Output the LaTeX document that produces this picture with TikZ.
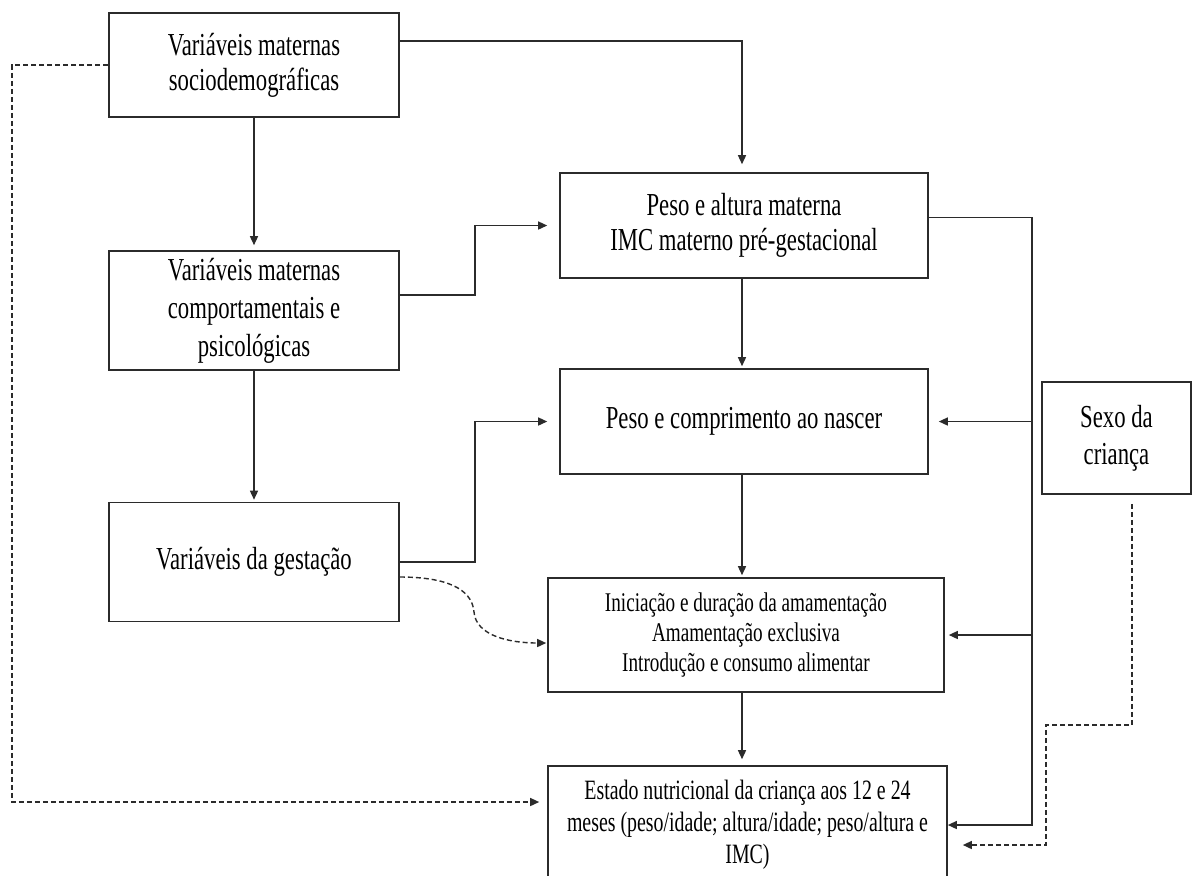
\documentclass[tikz,border=0pt]{standalone}
\usepackage{fontspec}
\setmainfont{Liberation Serif}[FakeStretch=0.71]
\usetikzlibrary{arrows.meta,calc}
\definecolor{fwline}{HTML}{2B2B2B}

\begin{document}
\begin{tikzpicture}[x=0.5pt, y=-0.5pt,
   box/.style={draw=fwline, line width=0.8pt, minimum width=145pt, align=center,
               inner sep=0pt, font=\fontsize{16}{17.5}\selectfont},
   midbox/.style={box, minimum width=184pt, minimum height=52.5pt},
   lowbox/.style={box, font=\fontsize{13.5}{15}\selectfont},
   link/.style={draw=fwline, line width=0.7pt, ->},
   weak/.style={link, dash pattern=on 2.5pt off 1.5pt},
   >={Triangle[length=4.5pt,width=4pt]}]
  \useasboundingbox (0,0) rectangle (1192,875);

  \node[box, minimum height=52pt] (socio) at (254,65) {Variáveis maternas\\sociodemográficas};
  \node[box, minimum height=59.5pt, font=\fontsize{16}{19}\selectfont] (behav) at (254,310.5)
       {Variáveis maternas\\comportamentais e\\psicológicas};
  \node[box, minimum height=59.5pt] (gest) at (254,562) {Variáveis da gestação};
  \node[midbox] (mother) at (744,225.5) {Peso e altura materna\\IMC materno pré-gestacional};
  \node[midbox] (birth) at (744,421.5) {Peso e comprimento ao nascer};
  \node[lowbox, minimum width=198pt, minimum height=57pt] (feed) at (746,635)
       {Iniciação e duração da amamentação\\Amamentação exclusiva\\Introdução e consumo alimentar};
  \node[lowbox, minimum width=199.5pt, minimum height=59pt, font=\fontsize{14}{16}\selectfont] (status) at (747.5,825)
       {Estado nutricional da criança aos 12 e 24\\meses (peso/idade; altura/idade; peso/altura e\\IMC)};
  \node[box, minimum width=74.5pt, minimum height=56pt, font=\fontsize{16}{18.5}\selectfont] (sex) at (1116.5,438)
       {Sexo da\\criança};

  % guide lines
  \coordinate (spine) at (742,0);
  \coordinate (rail) at (1032,0);
  \coordinate (lft) at (12,0);
  \coordinate (jog) at (1046,725);
  \coordinate (bend) at (474,612);

  % left column
  \draw[link, shorten >=2.5pt] (socio) -- (behav);
  \draw[link, shorten >=1pt] (behav) -- (gest);
  \draw[link, shorten >=4pt] ([yshift=12pt]socio.east) -| (mother.north -| spine);
  \draw[link, shorten >=6pt] ([yshift=7.75pt]behav.east) -- ++(75,0) |- (mother.west);
  \draw[link, shorten >=6pt] (gest.east) -- ++(75,0) |- (birth.west);
  \draw[weak, shorten >=0.5pt] ([yshift=-7.5pt]gest.east) .. controls (445,577) and (472,588) .. (bend)
       .. controls (476,636) and (510,643) .. ([yshift=-4pt]feed.west);

  % middle column
  \draw[link, shorten >=1pt] (mother.south -| spine) -- (birth.north -| spine);
  \draw[link, shorten >=1pt] (birth.south -| spine) -- (feed.north -| spine);
  \draw[link, shorten >=3pt] (feed.south -| spine) -- (status.north -| spine);

  % right rail
  \draw[link] ([yshift=4pt]mother.east) -| (rail |- status.east) -- (status.east);
  \draw[link, shorten >=5pt] (birth.east -| rail) -- (birth.east);
  \draw[link, shorten >=2pt] (feed.east -| rail) -- (feed.east);

  % dashed paths
  \draw[weak, shorten >=4pt] (socio.west) -- (socio.west -| lft) |- ([yshift=11.5pt]status.west);
  \draw[weak] ([xshift=7.75pt,yshift=-4.5pt]sex.south) |- (jog) |- ([xshift=7.5pt,yshift=-10pt]status.east);
\end{tikzpicture}
\end{document}
